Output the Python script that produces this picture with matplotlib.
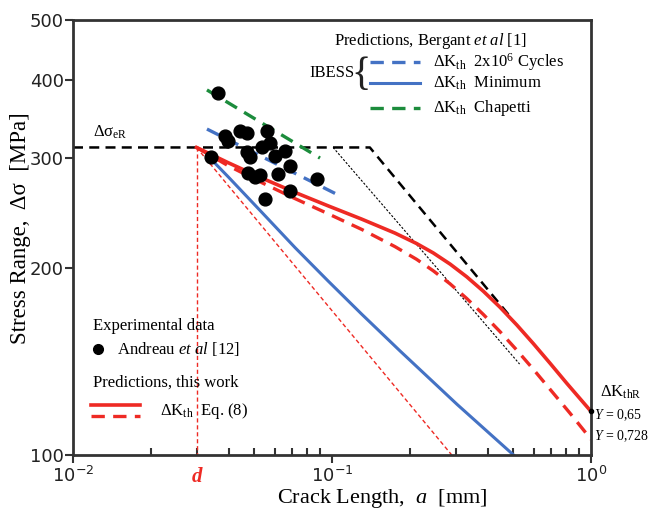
import matplotlib
matplotlib.use("Agg")
import matplotlib.pyplot as plt
import matplotlib.transforms as mtransforms

plt.rcParams["font.family"] = ["Liberation Serif", "DejaVu Serif"]
plt.rcParams["mathtext.fontset"] = "custom"
plt.rcParams["mathtext.rm"] = "Liberation Serif"
plt.rcParams["mathtext.it"] = "Liberation Serif:italic"
plt.rcParams["mathtext.sf"] = "DejaVu Sans"

# experimental data, Andreau et al (crack length mm, stress range MPa)
exp_a = [0.0363, 0.0387, 0.0397, 0.0442, 0.0470, 0.0561, 0.0577, 0.0537, 0.0470,
         0.0483, 0.0658, 0.0603, 0.0341, 0.0689, 0.0619, 0.0475, 0.0505, 0.0527,
         0.0875, 0.0689, 0.0551]
exp_s = [382, 325, 320, 332, 329, 332, 317, 313, 307,
         301, 308, 302, 301, 291, 283, 284, 280, 282,
         278, 266, 258]

# predictions, this work (Eq. 8), Y = 0.65 and Y = 0.728
pred_a_065 = [0.030, 0.0398, 0.0536, 0.0720, 0.0968, 0.130, 0.175, 0.212, 0.246,
              0.286, 0.331, 0.384, 0.445, 0.517, 0.599, 0.695, 0.806, 1.0]
pred_s_065 = [312, 294.8, 278.6, 264.2, 251.3, 239.4, 227.3, 218.7, 211.2,
              202.6, 193.4, 183.3, 172.8, 161.8, 151.0, 140.4, 130.4, 117.5]
pred_a_0728 = [0.030, 0.0397, 0.0537, 0.0720, 0.0965, 0.1305, 0.175, 0.212, 0.246,
               0.286, 0.331, 0.384, 0.445, 0.517, 0.599, 0.695, 0.830, 1.0]
pred_s_0728 = [312, 291.7, 273.8, 258.2, 244.2, 230.3, 216.2, 206.3, 197.7,
               188.3, 178.5, 168.2, 157.9, 147.4, 137.3, 127.5, 116.7, 106]

# IBESS / Chapetti predictions (Bergant et al)
ibess_min_a = [0.0338, 0.0398, 0.0536, 0.0720, 0.0968, 0.130, 0.183, 0.304, 0.509]
ibess_min_s = [300, 279.7, 245.4, 215.4, 190.2, 168.5, 147.0, 120.6, 99.5]
ibess_2e6_a = [0.0329, 0.109]
ibess_2e6_s = [334, 260]
chapetti_a = [0.0329, 0.0899]
chapetti_s = [386, 300]

# Kitagawa-Takahashi type limits
d = 0.03
sigma_eR = 312
kt_a = [0.01, 0.14, 0.487]
kt_s = [sigma_eR, sigma_eR, 167]
kt2_a = [0.101, 0.53]
kt2_s = [sigma_eR, 140]
lefm_a = [d, 0.29]
lefm_s = [sigma_eR, 100]

RED = "#ee2a24"
BLUE = "#4472c4"
GREEN = "#1c8c3c"

fig = plt.figure(figsize=(6.51, 5.12), dpi=100)
ax = fig.add_axes([73 / 651, 57 / 512, 518 / 651, 435 / 512])
ax.set_xscale("log")
ax.set_yscale("log")
ax.set_xlim(0.01, 1.0)
ax.set_ylim(100, 500)

# limit lines
ax.plot(kt_a, kt_s, color="black", lw=1.8, dashes=(4, 2.5))
ax.plot(kt2_a, kt2_s, color="black", lw=0.8, dashes=(2, 1.5))
ax.plot(lefm_a, lefm_s, color=RED, lw=1.0, dashes=(3, 2))
ax.plot([d, d], [sigma_eR, 100], color=RED, lw=1.0, dashes=(3, 2))

# Bergant et al predictions
ax.plot(ibess_min_a, ibess_min_s, color=BLUE, lw=2.2)
ax.plot(ibess_2e6_a, ibess_2e6_s, color=BLUE, lw=2.4, dashes=(4, 2.5))
ax.plot(chapetti_a, chapetti_s, color=GREEN, lw=2.4, dashes=(4, 2.5))

# this work
ax.plot(pred_a_065, pred_s_065, color=RED, lw=2.6)
ax.plot(pred_a_0728, pred_s_0728, color=RED, lw=2.4, dashes=(4, 2.5))

ax.scatter(exp_a, exp_s, s=85, color="black", zorder=5)
ax.plot([1.0], [pred_s_065[-1]], "o", color="black", ms=3, clip_on=False, zorder=6)

# axes styling
for sp in ax.spines.values():
    sp.set_linewidth(2)
    sp.set_color("#333333")
ax.set_yticks([100, 200, 300, 400, 500])
ax.set_yticklabels(["100", "200", "300", "400", "500"], fontfamily="DejaVu Sans",
                   fontsize=13, color="#222222")
ax.set_yticks([], minor=True)
ax.set_xticks([0.01, 0.1, 1.0])
ax.set_xticklabels(["$\\mathsf{10^{-2}}$", "$\\mathsf{10^{-1}}$", "$\\mathsf{10^{0}}$"],
                   fontsize=13, color="#222222")
ax.tick_params(axis="y", which="major", direction="out", length=6, width=1.5,
               colors="#333333", pad=0.5)
ax.tick_params(axis="x", which="major", direction="out", length=6, width=1.5,
               colors="#333333", pad=2)
ax.tick_params(axis="x", which="minor", direction="in", length=5, width=1.5,
               colors="#333333")
for lab in ax.get_xticklabels() + ax.get_yticklabels():
    lab.set_color("#222222")

# axis titles
fig.text(382 / 651, 1 - 499 / 512, "Crack Length,  $a$  [mm]", ha="center", va="center",
         fontsize=16)
fig.text(21 / 651, 1 - 228 / 512, "Stress Range,  Δσ  [MPa]", rotation=90,
         ha="center", va="center", fontsize=16.5)

# Bergant et al legend block
T = ax.transAxes
ax.text(0.691, 0.952, "Predictions, Bergant $et\\ al$ [1]", transform=T,
        ha="center", va="center", fontsize=12)
ax.text(0.544, 0.878, "IBESS", transform=T, ha="right", va="center", fontsize=12)
ax.text(0.556, 0.872, "{", transform=T, ha="center", va="center", fontsize=29,
        color="#222222")
ax.plot([0.573, 0.670], [0.904, 0.904], transform=T, color=BLUE, lw=2.4, dashes=(4, 2.5))
ax.plot([0.573, 0.670], [0.855, 0.855], transform=T, color=BLUE, lw=2.2)
ax.plot([0.573, 0.670], [0.798, 0.798], transform=T, color=GREEN, lw=2.4, dashes=(4, 2.5))
ax.text(0.695, 0.904, "ΔK$_{\\rm th}$  2x10$^6$ Cycles", transform=T, va="center", fontsize=12)
ax.text(0.695, 0.855, "ΔK$_{\\rm th}$  Minimum", transform=T, va="center", fontsize=12)
ax.text(0.695, 0.798, "ΔK$_{\\rm th}$  Chapetti", transform=T, va="center", fontsize=12)

# this work legend block
ax.text(0.039, 0.296, "Experimental data", transform=T, va="center", fontsize=12)
ax.plot([0.048], [0.243], "o", transform=T, color="black", ms=7)
ax.text(0.085, 0.243, "Andreau $et\\ al$ [12]", transform=T, va="center", fontsize=12)
ax.text(0.039, 0.167, "Predictions, this work", transform=T, va="center", fontsize=12)
ax.plot([0.035, 0.129], [0.115, 0.115], transform=T, color=RED, lw=2.6)
ax.plot([0.035, 0.129], [0.089, 0.089], transform=T, color=RED, lw=2.4, dashes=(4, 2.5))
ax.text(0.168, 0.101, "ΔK$_{\\rm th}$  Eq. (8)", transform=T, va="center", fontsize=12)

ax.text(0.039, 0.741, "Δσ$_{\\rm eR}$", transform=T, va="center", fontsize=12)

# d marker below the axis
blend = mtransforms.blended_transform_factory(ax.transData, ax.transAxes)
ax.text(d, -0.028, "d", transform=blend, ha="center", va="top", fontsize=15,
        color=RED, fontweight="bold", fontstyle="italic", clip_on=False)

# right-hand labels
ax.text(1.017, 0.145, "ΔK$_{\\rm thR}$", transform=T, va="center", fontsize=12, clip_on=False)
ax.text(1.006, 0.092, "$Y$ = 0,65", transform=T, va="center", fontsize=10, clip_on=False)
ax.text(1.006, 0.044, "$Y$ = 0,728", transform=T, va="center", fontsize=10, clip_on=False)

fig.savefig("out.png", dpi=100)
